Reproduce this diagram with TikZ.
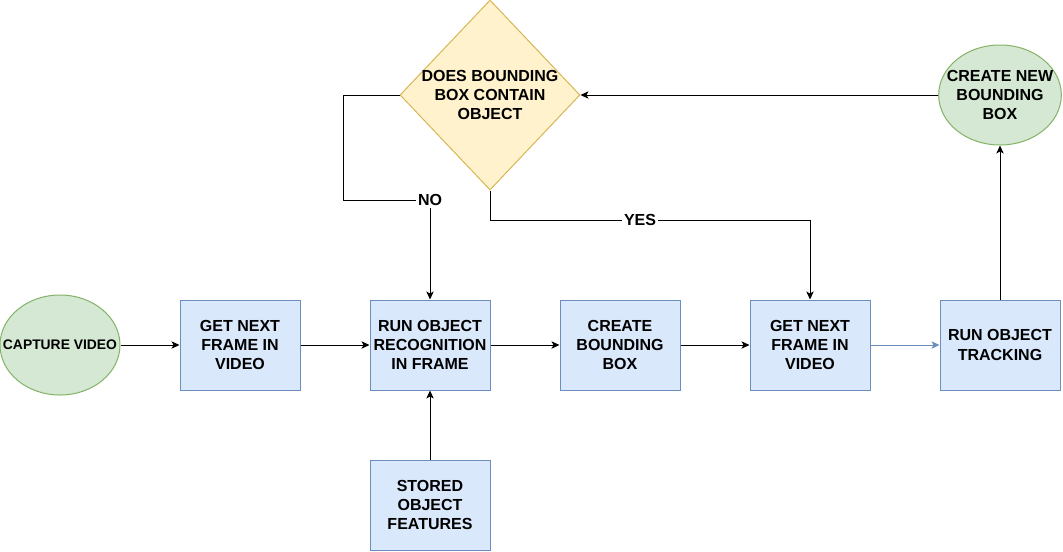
\documentclass[tikz,border=0pt]{standalone}
\usepackage{fontspec}
\setmainfont{Liberation Sans}
\usetikzlibrary{shapes.geometric,arrows.meta}
\definecolor{bfill}{HTML}{DAE8FC}
\definecolor{bline}{HTML}{6C8EBF}
\definecolor{gfill}{HTML}{D5E8D4}
\definecolor{gline}{HTML}{82B366}
\definecolor{yfill}{HTML}{FFF2CC}
\definecolor{yline}{HTML}{D6B656}
\tikzset{
  base/.style={font=\bfseries\fontsize{12}{14.4}\selectfont, align=center, inner sep=0pt, line width=0.75pt},
  proc/.style={base, rectangle, draw=bline, fill=bfill, minimum width=90pt, minimum height=67.5pt},
  term/.style={base, ellipse, inner sep=-11pt, draw=gline, fill=gfill, minimum width=90pt, minimum height=75pt},
  dec/.style={base, diamond, inner sep=-9pt, draw=yline, fill=yfill, minimum width=135pt, minimum height=142.5pt},
  arr/.style={line width=0.75pt, -{Stealth[length=6pt,width=5.5pt,inset=1.5pt]}},
  lbl/.style={font=\bfseries\fontsize{12}{14.4}\selectfont, fill=white, inner sep=1.5pt}
}
\begin{document}
\begin{tikzpicture}[x=0.75pt,y=-0.75pt]
\useasboundingbox (0,0) rectangle (1063,551);
\node[term] (cap) at (60,345) {\fontsize{10.4}{12}\selectfont CAPTURE VIDEO};
\node[proc] (get1) at (240,345) {GET NEXT\\FRAME IN\\VIDEO};
\node[proc] (rec) at (430,345) {RUN OBJECT\\RECOGNITION\\IN FRAME};
\node[proc] (cbb) at (620,345) {CREATE\\BOUNDING\\BOX};
\node[proc] (get2) at (810,345) {GET NEXT\\FRAME IN\\VIDEO};
\node[proc] (trk) at (1000,345) {RUN OBJECT\\TRACKING};
\node[proc] (sto) at (430,505) {STORED\\OBJECT\\FEATURES};
\node[term, minimum width=92pt] (cnb) at (1000,95) {CREATE NEW\\BOUNDING\\BOX};
\node[dec] (dec) at (490,95) {DOES BOUNDING\\BOX CONTAIN\\OBJECT};
\coordinate (n1) at (343,200);
\coordinate (y1) at (490,220);
\draw[arr] (cap) -- (get1);
\draw[arr] (get1) -- (rec);
\draw[arr] (rec) -- (cbb);
\draw[arr] (cbb) -- (get2);
\draw[arr, draw=bline, fill=bline] (get2) -- (trk);
\draw[arr] (sto) -- (rec);
\draw[arr] (trk) -- (cnb);
\draw[arr] (cnb) -- (dec.east);
\draw[arr] (dec.west) -| (n1) -| (rec.north);
\draw[arr] (dec.south) -- (y1) -| (get2.north);
\node[lbl] (no) at (430,200) {NO};
\node[lbl] (yes) at (640,220) {YES};
\end{tikzpicture}
\end{document}
